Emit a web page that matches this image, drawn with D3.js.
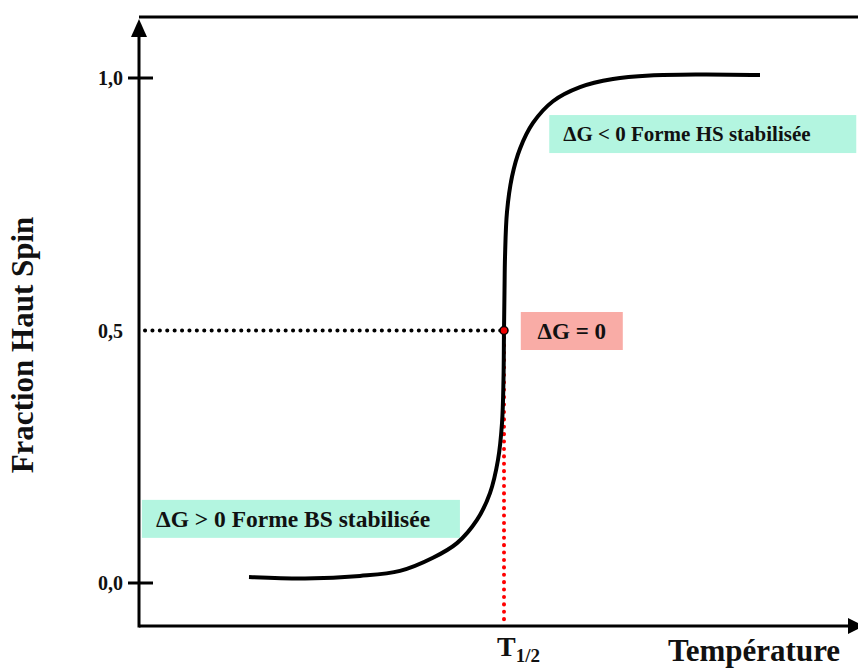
<!DOCTYPE html>
<html>
<head>
<meta charset="utf-8">
<script src="https://cdn.jsdelivr.net/npm/d3@7"></script>
<style>
  body { margin: 0; background: #fff; }
  svg { display: block; }
  text { font-family: "Liberation Serif", "Times New Roman", serif; font-weight: bold; fill: #111; }
</style>
</head>
<body>
<div id="chart"></div>
<script>
// spin crossover curve: temperature (arbitrary units, T1/2 = 50) vs HS fraction
const temperature = [15.07, 22.74, 30.27, 35.75, 40.27, 43.56, 46.30, 48.08, 49.18, 49.73, 49.93, 50.0, 50.07, 50.14, 50.41, 51.10, 52.19, 53.97, 56.71, 60.41, 64.93, 70.0, 76.85, 85.07];
const fraction    = [0.012, 0.009, 0.014, 0.024, 0.050, 0.079, 0.125, 0.178, 0.244, 0.317, 0.402, 0.5, 0.580, 0.646, 0.735, 0.805, 0.860, 0.911, 0.954, 0.982, 0.998, 1.005, 1.007, 1.006];
const yTickLabels = [0, 0.5, 1];
const yTickMarks = [0, 1];
const tHalf = 50;
const annotations = [
    { text: "ΔG < 0 Forme HS stabilisée", x: 56.2, y: 0.889, w: 307, size: 21, fill: "#b3f5e0" },
    { text: "ΔG = 0", x: 52.3, y: 0.499, w: 102, size: 23, fill: "#f9aca6" },
    { text: "ΔG > 0 Forme BS stabilisée", x: 0.4, y: 0.127, w: 318, size: 23.5, fill: "#b3f5e0" }
];

const width = 858, height = 670;
const left = 139, axisY = 626;

const svg = d3.select('#chart').append('svg')
    .attr('width', width)
    .attr('height', height);

const x = d3.scaleLinear().domain([0, 100]).range([left, left + 730]);
const y = d3.scaleLinear().domain([0, 1]).range([583, 78]);

// frame top line
svg.append('line')
    .attr('x1', left).attr('x2', width)
    .attr('y1', 17).attr('y2', 17)
    .attr('stroke', '#000').attr('stroke-width', 3);

// y axis with arrow
svg.append('line')
    .attr('x1', left).attr('x2', left)
    .attr('y1', 30).attr('y2', axisY + 1.5)
    .attr('stroke', '#000').attr('stroke-width', 3);
svg.append('path')
    .attr('d', `M${left},19 L${left - 8},37 L${left + 8},37 Z`)
    .attr('fill', '#000');

// x axis with arrow
svg.append('line')
    .attr('x1', left).attr('x2', width - 6)
    .attr('y1', axisY).attr('y2', axisY)
    .attr('stroke', '#000').attr('stroke-width', 3);
svg.append('path')
    .attr('d', `M${width + 6},${axisY} L${width - 10},${axisY - 8} L${width - 10},${axisY + 8} Z`)
    .attr('fill', '#000');

// y ticks and labels
svg.selectAll('.tick')
    .data(yTickMarks)
    .enter().append('line')
    .attr('class', 'tick')
    .attr('x1', left - 11).attr('x2', left + 14)
    .attr('y1', d => y(d)).attr('y2', d => y(d))
    .attr('stroke', '#000').attr('stroke-width', 3);

svg.selectAll('.ylabel')
    .data(yTickLabels)
    .enter().append('text')
    .attr('class', 'ylabel')
    .attr('x', left - 16)
    .attr('y', d => y(d))
    .attr('dy', '0.35em')
    .attr('text-anchor', 'end')
    .style('font-size', '20px')
    .text(d => d3.format('.1f')(d).replace('.', ','));

// axis titles
svg.append('text')
    .attr('transform', `translate(33,${345}) rotate(-90)`)
    .attr('text-anchor', 'middle')
    .style('font-size', '31px')
    .text('Fraction Haut Spin');

svg.append('text')
    .attr('x', 754).attr('y', 661)
    .attr('text-anchor', 'middle')
    .style('font-size', '31px')
    .text('Température');

const tLabel = svg.append('text')
    .attr('x', x(tHalf) - 7).attr('y', 656)
    .attr('text-anchor', 'start')
    .style('font-size', '28px');
tLabel.append('tspan').text('T');
tLabel.append('tspan').attr('dy', 6).style('font-size', '19px').text('1/2');

// guide lines
svg.append('line')
    .attr('x1', left + 6).attr('x2', x(tHalf))
    .attr('y1', y(0.5)).attr('y2', y(0.5))
    .attr('stroke', '#000').attr('stroke-width', 4)
    .attr('stroke-linecap', 'round')
    .attr('stroke-dasharray', '0.1 7.3');

svg.append('line')
    .attr('x1', x(tHalf)).attr('x2', x(tHalf))
    .attr('y1', y(0.5)).attr('y2', axisY - 2)
    .attr('stroke', '#f00').attr('stroke-width', 4)
    .attr('stroke-linecap', 'round')
    .attr('stroke-dasharray', '0.1 7.3');

// annotation boxes
annotations.forEach(a => {
    const g = svg.append('g');
    g.append('rect')
        .attr('x', x(a.x)).attr('y', y(a.y) - 19)
        .attr('width', a.w).attr('height', 38)
        .attr('fill', a.fill);
    g.append('text')
        .attr('x', x(a.x) + (a.text.length < 10 ? a.w / 2 : 14))
        .attr('y', y(a.y))
        .attr('dy', '0.35em')
        .attr('text-anchor', a.text.length < 10 ? 'middle' : 'start')
        .style('font-size', a.size + 'px')
        .text(a.text);
});

// curve
const points = temperature.map((t, i) => [t, fraction[i]]);
const line = d3.line()
    .x(d => x(d[0]))
    .y(d => y(d[1]))
    .curve(d3.curveCatmullRom.alpha(0.5));

svg.append('path')
    .datum(points)
    .attr('d', line)
    .attr('fill', 'none')
    .attr('stroke', '#000')
    .attr('stroke-width', 4);

// point at T1/2
svg.append('circle')
    .attr('cx', x(tHalf)).attr('cy', y(0.5))
    .attr('r', 4)
    .attr('fill', '#e00')
    .attr('stroke', '#000')
    .attr('stroke-width', 1.5);
</script>
</body>
</html>
